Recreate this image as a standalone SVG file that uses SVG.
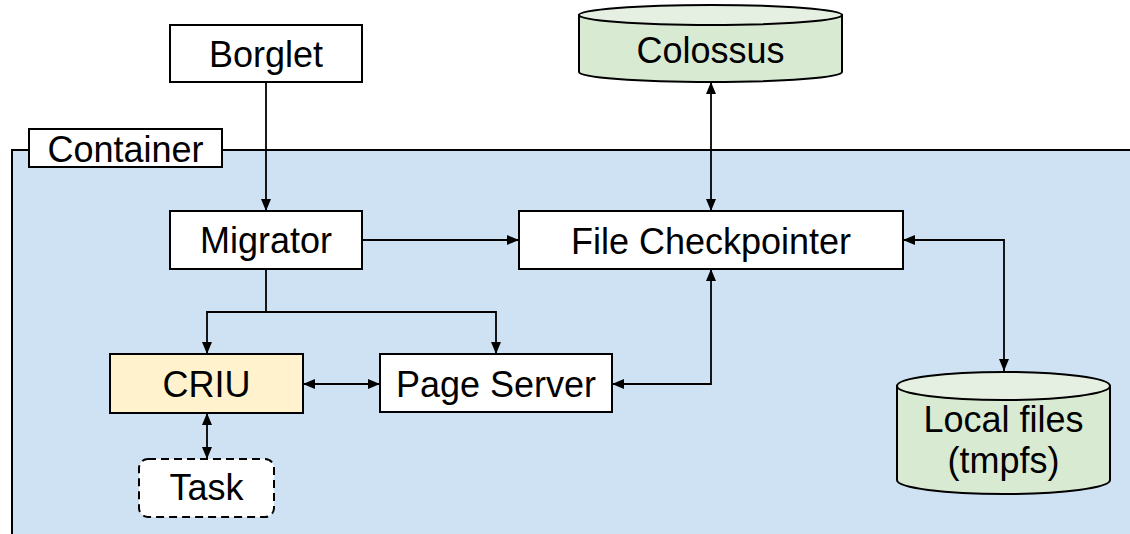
<svg xmlns="http://www.w3.org/2000/svg" width="1130" height="534" viewBox="0 0 1130 534">
<style>
  .box { fill: #ffffff; stroke: #000000; stroke-width: 2; }
  .lbl { font-family: "Liberation Sans", Arial, sans-serif; font-size: 36px; fill: #000000; text-anchor: middle; }
  .con { fill: none; stroke: #000000; stroke-width: 1.8; }
  .cylbody { fill: #d9ead3; stroke: #000000; stroke-width: 2; }
  .cyltop { fill: #e6f0e2; stroke: #000000; stroke-width: 2; }
</style>
<defs>
  <marker id="ah" markerUnits="userSpaceOnUse" markerWidth="12" markerHeight="10" refX="12" refY="5" orient="auto-start-reverse">
    <path d="M0,0 L12,5 L0,10 z" fill="#000000"/>
  </marker>
</defs>
<rect width="1130" height="534" fill="#ffffff"/>

<g id="container">
  <rect x="12" y="150" width="1140" height="400" fill="#cfe2f3" stroke="#000000" stroke-width="2"/>
  <rect x="29" y="129" width="193" height="38" class="box"/>
  <text x="125.5" y="162" class="lbl">Container</text>
</g>

<g id="connectors">
  <line x1="266" y1="82" x2="266" y2="211" class="con" marker-end="url(#ah)"/>
  <line x1="362" y1="240" x2="519" y2="240" class="con" marker-end="url(#ah)"/>
  <line x1="711" y1="82" x2="711" y2="211" class="con" marker-start="url(#ah)" marker-end="url(#ah)"/>
  <polyline points="266,269 266,312 207,312 207,354" class="con" marker-end="url(#ah)"/>
  <polyline points="266,312 496,312 496,354" class="con" marker-end="url(#ah)"/>
  <line x1="303" y1="384" x2="380" y2="384" class="con" marker-start="url(#ah)" marker-end="url(#ah)"/>
  <line x1="207" y1="413" x2="207" y2="459" class="con" marker-start="url(#ah)" marker-end="url(#ah)"/>
  <polyline points="612,384 711,384 711,269" class="con" marker-start="url(#ah)" marker-end="url(#ah)"/>
  <polyline points="903,240 1004,240 1004,371" class="con" marker-start="url(#ah)" marker-end="url(#ah)"/>
</g>

<g id="borglet">
  <rect x="170" y="25" width="192" height="57" class="box"/>
  <text x="266" y="67" class="lbl">Borglet</text>
</g>

<g id="colossus">
  <path d="M579,15 L579,72 A131.5,10 0 0 0 842,72 L842,15 Z" class="cylbody"/>
  <ellipse cx="710.5" cy="15" rx="131.5" ry="10" class="cyltop"/>
  <text x="710.5" y="63" class="lbl">Colossus</text>
</g>

<g id="migrator">
  <rect x="170" y="211" width="192" height="58" class="box"/>
  <text x="266" y="253" class="lbl">Migrator</text>
</g>

<g id="file-checkpointer">
  <rect x="519" y="211" width="384" height="58" class="box"/>
  <text x="711" y="254" class="lbl">File Checkpointer</text>
</g>

<g id="criu">
  <rect x="110" y="354" width="193" height="59" fill="#fff2cc" stroke="#000000" stroke-width="2"/>
  <text x="206.5" y="397" class="lbl">CRIU</text>
</g>

<g id="page-server">
  <rect x="380" y="354" width="232" height="58" class="box"/>
  <text x="496" y="397" class="lbl">Page Server</text>
</g>

<g id="task">
  <rect x="139" y="459" width="135" height="58" rx="9" ry="9" fill="#ffffff" stroke="#000000" stroke-width="2" stroke-dasharray="8,5"/>
  <text x="206.5" y="500" class="lbl">Task</text>
</g>

<g id="local-files">
  <path d="M897,386 L897,480 A106.5,14 0 0 0 1110,480 L1110,386 Z" class="cylbody"/>
  <ellipse cx="1003.5" cy="386" rx="106.5" ry="14" class="cyltop"/>
  <text x="1003.5" y="432" class="lbl">Local files</text>
  <text x="1003.5" y="473" class="lbl">(tmpfs)</text>
</g>
</svg>
